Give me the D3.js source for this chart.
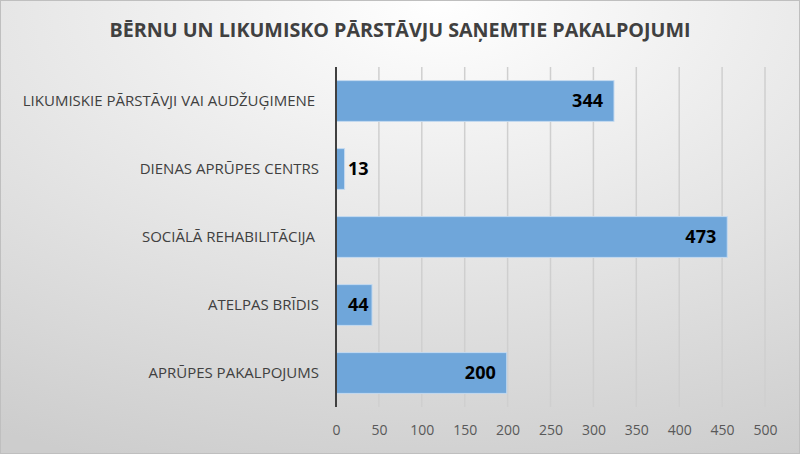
<!DOCTYPE html>
<html>
<head>
<meta charset="utf-8">
<script src="https://cdn.jsdelivr.net/npm/d3@7"></script>
<style>
  html, body { margin: 0; padding: 0; background: #fff; }
  svg { display: block; }
</style>
</head>
<body>
<div id="chart"></div>
<script>
// categories top to bottom
const categories = [
  'LIKUMISKIE PĀRSTĀVJI VAI AUDŽUĢIMENE ',
  'DIENAS APRŪPES CENTRS',
  'SOCIĀLĀ REHABILITĀCIJA ',
  'ATELPAS BRĪDIS',
  'APRŪPES PAKALPOJUMS'
]
// data labels as printed on the chart
const labelValues = [344, 13, 473, 44, 200]
// bar lengths as drawn against the axis
const barValues = [324, 10, 456, 42, 199]
const xTicks = [0, 50, 100, 150, 200, 250, 300, 350, 400, 450, 500]

const width = 800
const height = 454
const margin = { top: 67, left: 336, right: 35, bottom: 47 }
const innerW = width - margin.left - margin.right
const innerH = height - margin.top - margin.bottom

const svg = d3.select('#chart').append('svg')
  .attr('width', width)
  .attr('height', height)

// background gradient
const defs = svg.append('defs')
const grad = defs.append('radialGradient')
  .attr('id', 'bg')
  .attr('cx', '55%').attr('cy', '0%').attr('r', '110%')
grad.append('stop').attr('offset', '0%').attr('stop-color', '#ffffff')
grad.append('stop').attr('offset', '100%').attr('stop-color', '#cdcdcd')

svg.append('rect')
  .attr('x', 0.5).attr('y', 0.5)
  .attr('width', width - 1).attr('height', height - 1)
  .attr('fill', 'url(#bg)')
  .attr('stroke', '#bfbfbf')

// title
svg.append('text')
  .attr('x', 400)
  .attr('y', 37)
  .attr('text-anchor', 'middle')
  .style('font-family', 'Open Sans')
  .style('font-weight', 'bold')
  .style('font-size', '19.7px')
  .attr('fill', '#404040')
  .text('BĒRNU UN LIKUMISKO PĀRSTĀVJU SAŅEMTIE PAKALPOJUMI')

const x = d3.scaleLinear().domain([0, 500]).range([0, innerW])
const y = d3.scaleBand().domain(categories).range([0, innerH]).paddingInner(0.4).paddingOuter(0.2)

const g = svg.append('g')
  .attr('transform', `translate(${margin.left},${margin.top})`)

// gridlines
g.append('g')
  .selectAll('line')
  .data(xTicks.slice(1))
  .enter().append('line')
  .attr('x1', d => x(d)).attr('x2', d => x(d))
  .attr('y1', 0).attr('y2', innerH)
  .attr('stroke', '#cfcfcf')
  .attr('stroke-width', 1.5)

// x axis labels
g.append('g')
  .attr('class', 'axis x')
  .attr('transform', `translate(0, ${innerH})`)
  .call(d3.axisBottom(x).tickValues(xTicks).tickSize(0).tickPadding(18))
  .call(s => s.select('.domain').remove())
  .selectAll('text')
  .style('font-family', 'Open Sans')
  .style('font-size', '14px')
  .attr('fill', '#595959')

// bars
g.selectAll('rect.bar')
  .data(barValues)
  .enter().append('rect')
  .attr('class', 'bar')
  .attr('x', 0)
  .attr('y', (d, i) => y(categories[i]))
  .attr('width', d => x(d))
  .attr('height', y.bandwidth())
  .attr('fill', '#6fa6da')
  .attr('stroke', '#c4daf0')
  .attr('stroke-width', 1)

// y axis
g.append('g')
  .attr('class', 'axis y')
  .call(d3.axisLeft(y).tickSize(0).tickPadding(17))
  .call(s => s.select('.domain').remove())
  .selectAll('text')
  .style('font-family', 'Open Sans')
  .style('font-size', '15px')
  .style('white-space', 'pre')
  .attr('fill', '#404040')

g.append('line')
  .attr('x1', 0).attr('x2', 0)
  .attr('y1', 0).attr('y2', innerH)
  .attr('stroke', '#404040')
  .attr('stroke-width', 2)

// data labels
g.selectAll('text.label')
  .data(labelValues)
  .enter().append('text')
  .attr('class', 'label')
  .attr('y', (d, i) => y(categories[i]) + y.bandwidth() / 2)
  .attr('dy', '0.35em')
  .attr('text-anchor', 'end')
  .style('font-family', 'Open Sans')
  .style('font-weight', 'bold')
  .style('font-size', '18px')
  .attr('fill', '#000')
  .text(d => d)
  .attr('x', function (d, i) {
    const w = this.getComputedTextLength()
    return Math.max(x(barValues[i]) - 11, 12 + w)
  })
</script>
</body>
</html>
